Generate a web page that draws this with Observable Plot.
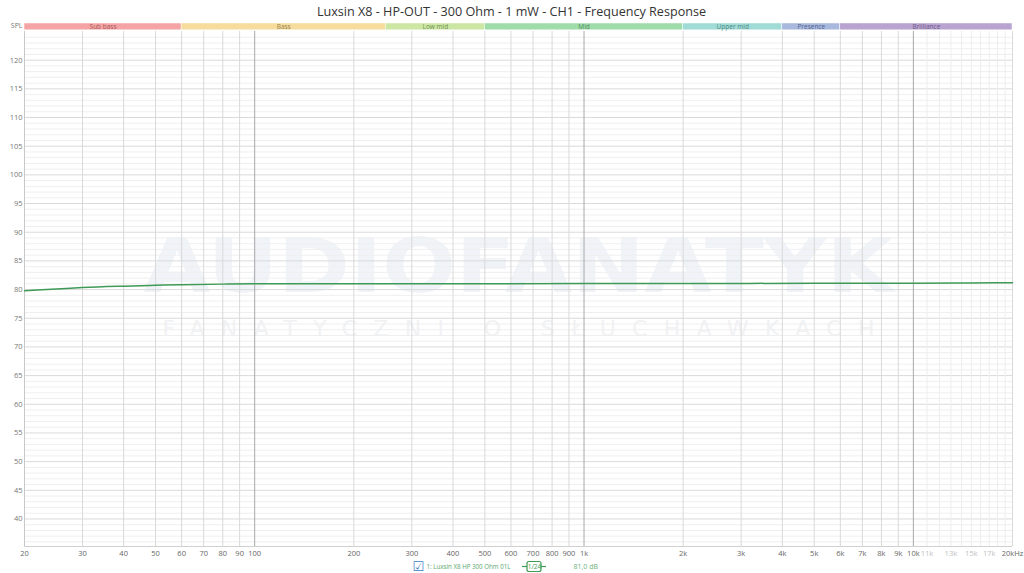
<!DOCTYPE html>
<html><head><meta charset="utf-8">
<script src="https://cdn.jsdelivr.net/npm/d3@7"></script>
<script src="https://cdn.jsdelivr.net/npm/@observablehq/plot@0.6"></script>
<style>body{margin:0;background:#fff;overflow:hidden;} svg{display:block;font-family:"Open Sans",sans-serif;}</style>
</head><body><div id="chart"></div>
<script>
const title = "Luxsin X8 - HP-OUT - 300 Ohm - 1 mW - CH1 - Frequency Response";
const watermark = "AUDIOFANATYK";
const watermarkSub = "FANATYCZNI O SŁUCHAWKACH";

// measured curve
const freqHz = [20, 25, 30, 40, 50, 60, 80, 100, 150, 200, 300, 500, 1000, 2000, 5000, 10000, 15000, 20000];
const splDb  = [79.8, 80.1, 80.35, 80.6, 80.75, 80.85, 80.95, 81.0, 81.0, 81.0, 81.0, 81.0, 81.05, 81.05, 81.1, 81.1, 81.15, 81.2];

// frequency bands
const bandNames = ["Sub bass", "Bass", "Low mid", "Mid", "Upper mid", "Presence", "Brilliance"];
const bandStart = [20, 60, 250, 500, 2000, 4000, 6000];
const bandEnd   = [60, 250, 500, 2000, 4000, 6000, 20000];
const bandFill  = ["#f4a4a4", "#f6dc9d", "#cce7a3", "#a0dcaa", "#a0dbd5", "#a9b9de", "#b9a3d0"];
const bandInk   = ["#a85a5a", "#9a8350", "#708f52", "#4f8a5c", "#4d8a86", "#54638e", "#6f5a8a"];

// axes
const xTickValues = [20,30,40,50,60,70,80,90,100,200,300,400,500,600,700,800,900,1000,2000,3000,4000,5000,6000,7000,8000,9000,10000,20000];
const xTickLabels = ["20","30","40","50","60","70","80","90","100","200","300","400","500","600","700","800","900","1k","2k","3k","4k","5k","6k","7k","8k","9k","10k","20kHz"];
const xFaintTickValues = [11000,13000,15000,17000];
const xFaintTickLabels = ["11k","13k","15k","17k"];
const yTickValues = [40,45,50,55,60,65,70,75,80,85,90,95,100,105,110,115,120];
const gridX = [30,40,50,60,70,80,90,200,300,400,500,600,700,800,900,2000,3000,4000,5000,6000,7000,8000,9000];
const gridDecadeX = [100,1000,10000];
const gridFaintX = [11000,12000,13000,14000,15000,16000,17000,18000,19000];

const legendLabel = "1: Luxsin X8 HP 300 Ohm 01L";
const legendSmoothing = "1/24";
const legendValue = "81,0 dB";

const curve = freqHz.map((f, i) => ({f, spl: splDb[i]}));
const bands = bandNames.map((name, i) => ({name, x1: bandStart[i], x2: bandEnd[i], fill: bandFill[i], ink: bandInk[i]}));
const xTicks = xTickValues.map((v, i) => ({v, label: xTickLabels[i]}));
const xFaintTicks = xFaintTickValues.map((v, i) => ({v, label: xFaintTickLabels[i]}));
const yMin = 35.2, yMax = 125;
const minorY = d3.range(36, 126).filter(v => v % 5 !== 0);
const font = "Open Sans";

const chart = Plot.plot({
  width: 1024,
  height: 573,
  marginLeft: 24,
  marginRight: 12,
  marginTop: 31,
  marginBottom: 27,
  style: {fontFamily: font, background: "#fff"},
  x: {type: "log", domain: [20, 20000], axis: null},
  y: {domain: [yMin, yMax], axis: null},
  marks: [
    Plot.text([watermark], {text: d => d, frameAnchor: "top", lineAnchor: "middle", dy: 237, fontSize: 74, fontWeight: "bold", fill: "#f0f3f8", fontFamily: "DejaVu Sans"}),
    Plot.text([watermarkSub], {text: d => d, frameAnchor: "top", lineAnchor: "middle", dy: 297, fontSize: 22, fill: "#f1f2f4", fontFamily: "DejaVu Sans"}),
    Plot.ruleY(minorY, {stroke: "#efefef", strokeWidth: 1}),
    Plot.ruleY(yTickValues, {stroke: "#dadada", strokeWidth: 1}),
    Plot.ruleX(gridFaintX, {stroke: "#ededed", strokeWidth: 1}),
    Plot.ruleX(gridX, {stroke: "#d9d9d9", strokeWidth: 1}),
    Plot.ruleX(gridDecadeX, {stroke: "#a8a8a8", strokeWidth: 1}),
    Plot.ruleX([20000], {stroke: "#d9d9d9"}),
    Plot.ruleX([20], {stroke: "#c8c8c8"}),
    Plot.ruleY([yMin], {stroke: "#d0d0d0"}),
    Plot.rect(bands, {x1: "x1", x2: "x2", y1: 125.2, y2: 126.4, fill: "fill", stroke: "#fff", strokeWidth: 0.5}),
    Plot.text(bands, {x: d => Math.sqrt(d.x1 * d.x2), y: 125.8, text: "name", fill: "ink", fontSize: 6.5}),
    Plot.line(curve, {x: "f", y: "spl", stroke: "#3e9a56", strokeWidth: 1.5, curve: "monotone-x"}),
    Plot.text(xTicks, {x: "v", text: "label", frameAnchor: "bottom", lineAnchor: "middle", dy: 7, fontSize: 7.5, fill: "#666"}),
    Plot.text(xFaintTicks, {x: "v", text: "label", frameAnchor: "bottom", lineAnchor: "middle", dy: 7, fontSize: 7.5, fill: "#c0c0c0"}),
    Plot.axisY(yTickValues, {tickSize: 0, tickPadding: 2, fontSize: 7.5, fill: "#777", label: null}),
    Plot.text([title], {text: d => d, frameAnchor: "top", lineAnchor: "middle", dx: -7, dy: -20, fontSize: 12.6, fill: "#333"}),
    Plot.text(["SPL"], {text: d => d, frameAnchor: "top-left", lineAnchor: "middle", dx: -2, dy: -6, textAnchor: "end", fontSize: 7, fill: "#777"}),
    Plot.text(["☑"], {text: d => d, frameAnchor: "bottom-left", lineAnchor: "middle", dx: 388, dy: 20, textAnchor: "start", fontSize: 13, fill: "#3f7fc8", fontFamily: "DejaVu Sans"}),
    Plot.text([legendLabel], {text: d => d, frameAnchor: "bottom-left", lineAnchor: "middle", dx: 402, dy: 20, textAnchor: "start", fontSize: 6.6, fill: "#5aa86c"}),
    Plot.text([legendSmoothing], {text: d => d, frameAnchor: "bottom-left", lineAnchor: "middle", dx: 510, dy: 20, textAnchor: "middle", fontSize: 6.5, fill: "#3e9a56"}),
    Plot.text([legendValue], {text: d => d, frameAnchor: "bottom-left", lineAnchor: "middle", dx: 549, dy: 20, textAnchor: "start", fontSize: 7, fill: "#6ab27a"})
  ]
});

// badge around smoothing label and stretch watermark text
const svg = d3.select(chart);
svg.selectAll("text").each(function() {
  const t = this.textContent;
  if (t === watermark) d3.select(this).attr("textLength", 750).attr("lengthAdjust", "spacingAndGlyphs");
  if (t === watermarkSub) d3.select(this).attr("textLength", 712).attr("lengthAdjust", "spacing");
  if (t === legendLabel) d3.select(this).attr("textLength", 84).attr("lengthAdjust", "spacingAndGlyphs");
});
const badge = svg.append("g").attr("fill", "none").attr("stroke", "#3e9a56");
badge.append("line").attr("x1", 522).attr("x2", 527).attr("y1", 566.5).attr("y2", 566.5).attr("stroke-width", 1.2);
badge.append("line").attr("x1", 541).attr("x2", 546).attr("y1", 566.5).attr("y2", 566.5).attr("stroke-width", 1.2);
badge.append("rect").attr("x", 527).attr("y", 561.5).attr("width", 14).attr("height", 10).attr("rx", 2).attr("stroke-width", 1.2);

document.getElementById("chart").append(chart);
</script>
</body></html>
